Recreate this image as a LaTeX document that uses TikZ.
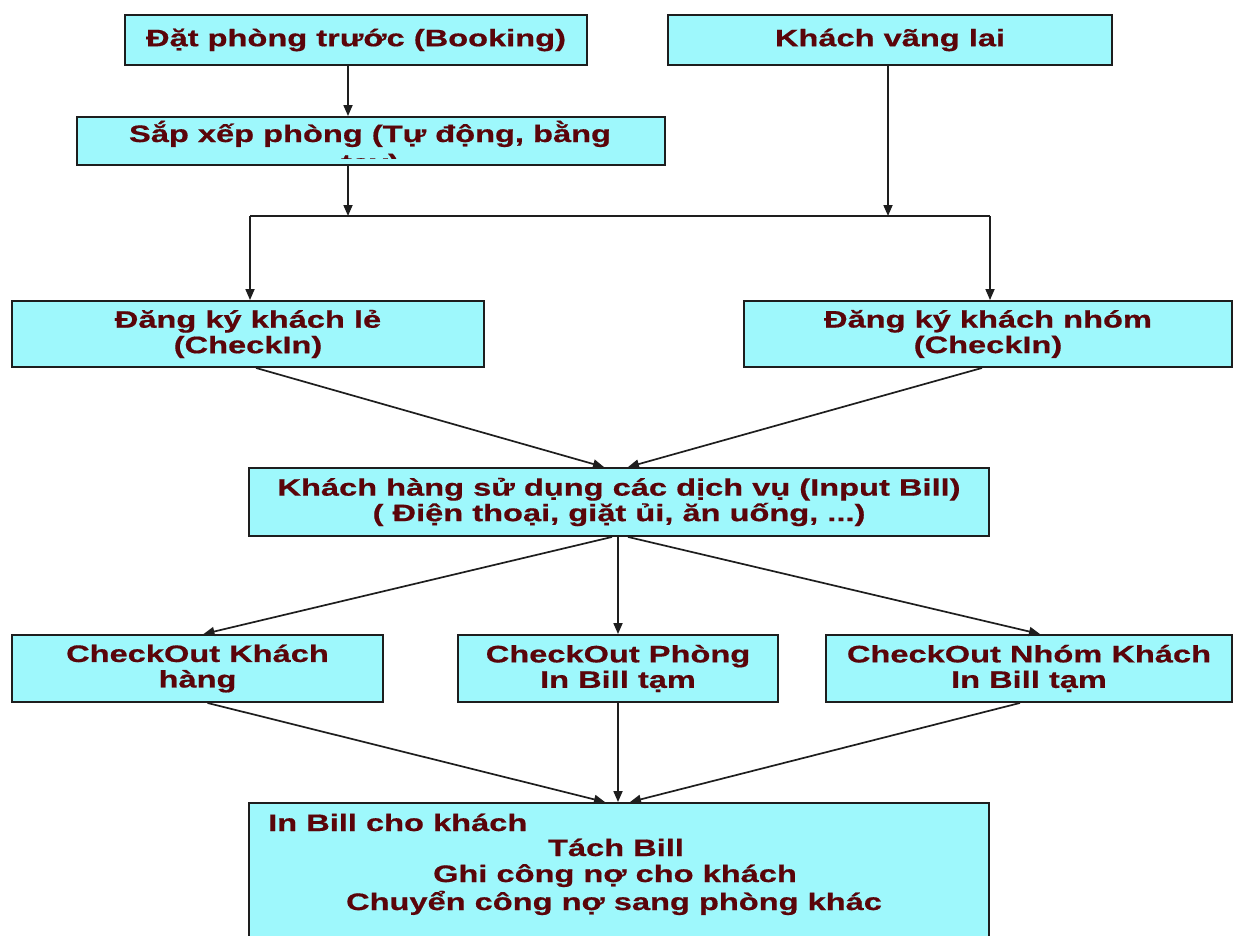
\documentclass[tikz,border=0pt]{standalone}
\usepackage{fontspec}
\newfontfamily\dfont{Liberation Sans}[FakeStretch=1.37,FakeBold=0.6]
\usetikzlibrary{arrows.meta}
\definecolor{boxfill}{RGB}{158,248,252}
\definecolor{txt}{RGB}{90,5,10}
\definecolor{edge}{RGB}{30,30,30}
\begin{document}
\begin{tikzpicture}[x=1pt,y=-1pt,
  box/.style={draw=edge, line width=1.9pt, fill=boxfill, inner sep=0pt,
    font={\dfont\bfseries\fontsize{23.8pt}{25.5pt}\selectfont}, text=txt, align=center},
  txtn/.style={inner sep=0pt, font={\dfont\bfseries\fontsize{23.8pt}{25.5pt}\selectfont}, text=txt},
  conn/.style={draw=edge, line width=1.7pt},
  arr/.style={conn, -{Triangle[length=11pt,width=9pt]}}]
\fill[white] (0,0) rectangle (1252,935);
\useasboundingbox (0,0) rectangle (1252,935);

% boxes
\node[box, minimum width=462pt, minimum height=50pt] (b1) at (356,40) {Đặt phòng trước (Booking)};
\node[box, minimum width=444pt, minimum height=50pt] (b2) at (890,40) {Khách vãng lai};
\node[box, minimum width=588pt, minimum height=48pt] (b3) at (371,141) {};
\node[txtn, anchor=base] (t3a) at (370,142) {Sắp xếp phòng (Tự động, bằng};
\begin{scope}
  \clip (80,119) rectangle (662,158);
  \node[txtn, anchor=base] (t3b) at (370,171) {tay)};
\end{scope}
\node[box, minimum width=472pt, minimum height=66pt] (b4) at (248,334) {Đăng ký khách lẻ\\(CheckIn)};
\node[box, minimum width=488pt, minimum height=66pt] (b5) at (988,334) {Đăng ký khách nhóm\\(CheckIn)};
\node[box, minimum width=740pt, minimum height=68pt] (b6) at (619,502) {Khách hàng sử dụng các dịch vụ (Input Bill)\\( Điện thoại, giặt ủi, ăn uống, ...)};
\node[box, minimum width=371pt, minimum height=67pt] (b7) at (197.5,668.5) {CheckOut Khách\\hàng};
\node[box, minimum width=320pt, minimum height=67pt] (b8) at (618,668.5) {CheckOut Phòng\\In Bill tạm};
\node[box, minimum width=406pt, minimum height=67pt] (b9) at (1029,668.5) {CheckOut Nhóm Khách\\In Bill tạm};
\node[box, minimum width=740pt, minimum height=160pt] (b10) at (619,883) {};
\node[txtn, anchor=base west] (t10a) at (268,831) {In Bill cho khách};
\node[txtn, anchor=base] (t10b) at (616,856) {Tách Bill};
\node[txtn, anchor=base] (t10c) at (615,882) {Ghi công nợ cho khách};
\node[txtn, anchor=base] (t10d) at (614,910) {Chuyển công nợ sang phòng khác};

% helper coordinates
\coordinate (x348) at (348,0);
\coordinate (hl) at (250,216);
\coordinate (hr) at (990,216);

% connectors
\draw[arr] (b1.south -| x348) -- (b3.north -| x348);
\draw[arr] (b3.south -| x348) -- (x348 |- hl);
\draw[arr] ([xshift=-2pt]b2.south) -- ([xshift=-2pt]b2.south |- hl);
\draw[conn] (hl) -- (hr);
\draw[arr] (hl) -- (hl |- b4.north);
\draw[arr] (hr) -- (hr |- b5.north);

\draw[arr] ([xshift=8pt]b4.south) -- ([xshift=-15pt]b6.north);
\draw[arr] ([xshift=-6pt]b5.south) -- ([xshift=9pt]b6.north);

\draw[arr] ([xshift=-7pt]b6.south) -- ([xshift=6pt]b7.north);
\draw[arr] (b6.south -| b8.north) -- (b8.north);
\draw[arr] ([xshift=9pt]b6.south) -- ([xshift=11pt]b9.north);

\draw[arr] ([xshift=10pt]b7.south) -- ([xshift=-14pt]b10.north);
\draw[arr] (b8.south) -- (b8.south |- b10.north);
\draw[arr] ([xshift=-9pt]b9.south) -- ([xshift=11pt]b10.north);
\end{tikzpicture}
\end{document}
